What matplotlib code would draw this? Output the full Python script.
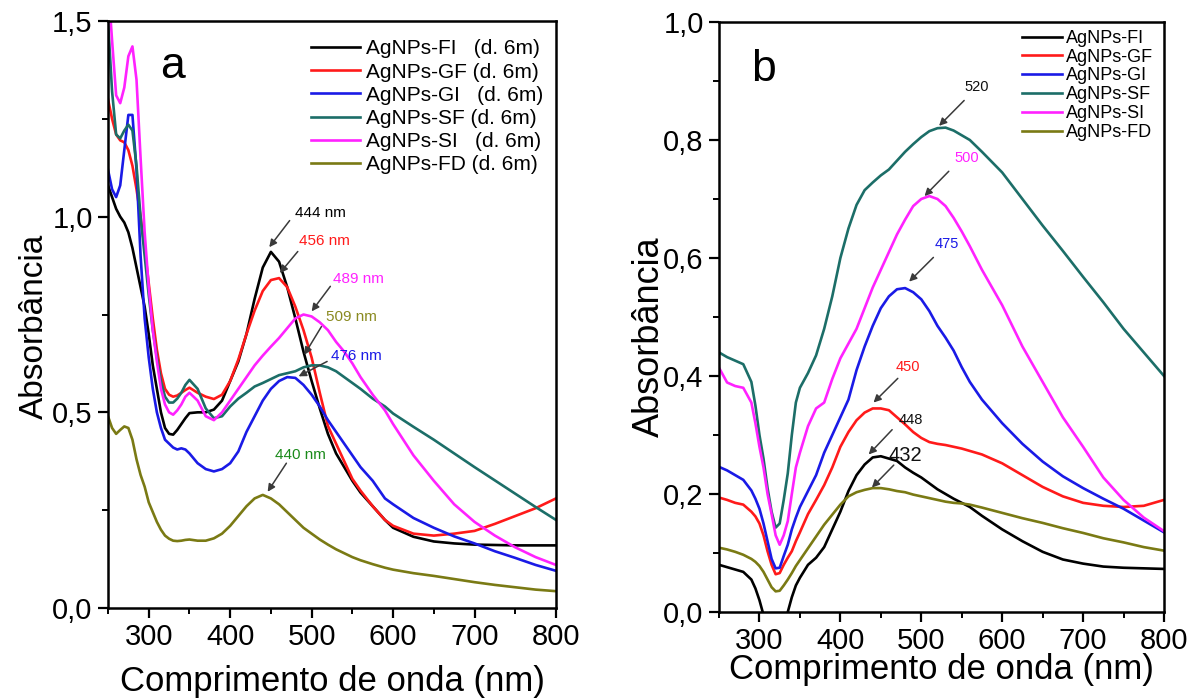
import matplotlib
matplotlib.use("Agg")
import matplotlib.pyplot as plt
from matplotlib.ticker import MultipleLocator, FuncFormatter

plt.rcParams['font.family'] = ['Liberation Sans', 'DejaVu Sans']

# ---------------- Panel a data ----------------
wl_a = [250, 255, 260, 265, 270, 275, 280, 285, 290, 295, 300, 305, 310, 315, 320, 325, 330,
        335, 340, 345, 350, 360, 370, 380, 390, 400, 410, 420, 430, 440, 450, 460, 470, 480, 490,
        500, 510, 520, 530, 540, 550, 560, 575, 590, 600, 625, 650, 675, 700, 725, 750, 775, 800]

a_FI = [1.08, 1.05, 1.02, 1.00, 0.985, 0.96, 0.92, 0.87, 0.82, 0.77, 0.70, 0.62, 0.56, 0.50, 0.46,
        0.445, 0.443, 0.455, 0.47, 0.485, 0.498, 0.50, 0.50, 0.507, 0.53, 0.58, 0.63, 0.70, 0.79,
        0.87, 0.91, 0.885, 0.82, 0.74, 0.655, 0.58, 0.51, 0.445, 0.395, 0.36, 0.325, 0.295, 0.26,
        0.225, 0.205, 0.182, 0.17, 0.165, 0.162, 0.161, 0.16, 0.16, 0.16]
a_GF = [1.30, 1.25, 1.21, 1.195, 1.19, 1.17, 1.13, 1.07, 1.00, 0.92, 0.83, 0.74, 0.66, 0.60, 0.56,
        0.545, 0.54, 0.543, 0.55, 0.557, 0.563, 0.55, 0.54, 0.534, 0.545, 0.58, 0.635, 0.70, 0.76,
        0.81, 0.838, 0.843, 0.82, 0.77, 0.71, 0.64, 0.55, 0.465, 0.42, 0.375, 0.33, 0.30, 0.26,
        0.225, 0.21, 0.19, 0.185, 0.19, 0.197, 0.215, 0.235, 0.255, 0.28]
a_GI = [1.12, 1.07, 1.05, 1.08, 1.17, 1.26, 1.26, 1.12, 0.90, 0.74, 0.64, 0.56, 0.50, 0.46, 0.43,
        0.42, 0.41, 0.405, 0.408, 0.405, 0.395, 0.37, 0.355, 0.349, 0.355, 0.37, 0.40, 0.45, 0.49,
        0.53, 0.56, 0.58, 0.59, 0.588, 0.57, 0.545, 0.515, 0.48, 0.45, 0.42, 0.39, 0.36, 0.325,
        0.28, 0.265, 0.23, 0.205, 0.183, 0.165, 0.145, 0.128, 0.11, 0.095]
a_SF = [1.50, 1.32, 1.21, 1.20, 1.22, 1.235, 1.22, 1.13, 1.00, 0.90, 0.80, 0.71, 0.64, 0.58, 0.54,
        0.525, 0.525, 0.535, 0.55, 0.57, 0.583, 0.56, 0.51, 0.485, 0.49, 0.515, 0.535, 0.55, 0.566,
        0.575, 0.585, 0.595, 0.60, 0.605, 0.615, 0.62, 0.62, 0.615, 0.605, 0.59, 0.575, 0.56, 0.535,
        0.515, 0.497, 0.463, 0.43, 0.395, 0.36, 0.326, 0.292, 0.258, 0.225]
a_SI = [1.60, 1.45, 1.31, 1.29, 1.33, 1.41, 1.435, 1.35, 1.15, 0.96, 0.82, 0.71, 0.63, 0.56, 0.52,
        0.50, 0.494, 0.505, 0.52, 0.54, 0.55, 0.53, 0.49, 0.48, 0.50, 0.53, 0.56, 0.59, 0.62,
        0.645, 0.668, 0.69, 0.715, 0.74, 0.75, 0.745, 0.73, 0.71, 0.68, 0.655, 0.625, 0.59, 0.545,
        0.505, 0.47, 0.39, 0.325, 0.265, 0.22, 0.185, 0.155, 0.13, 0.11]
a_FD = [0.49, 0.46, 0.445, 0.455, 0.464, 0.46, 0.43, 0.38, 0.34, 0.31, 0.27, 0.245, 0.22, 0.20,
        0.185, 0.177, 0.172, 0.171, 0.172, 0.174, 0.175, 0.172, 0.172, 0.178, 0.19, 0.21, 0.235,
        0.26, 0.28, 0.289, 0.28, 0.265, 0.245, 0.225, 0.205, 0.19, 0.175, 0.162, 0.15, 0.14, 0.13,
        0.122, 0.112, 0.103, 0.098, 0.089, 0.082, 0.074, 0.066, 0.059, 0.053, 0.047, 0.043]

labels_a = ["AgNPs-FI   (d. 6m)", "AgNPs-GF (d. 6m)", "AgNPs-GI   (d. 6m)",
            "AgNPs-SF (d. 6m)", "AgNPs-SI   (d. 6m)", "AgNPs-FD (d. 6m)"]

# ---------------- Panel b data ----------------
wl_b = [250, 260, 270, 280, 290, 295, 300, 305, 310, 315, 320, 325, 330, 335, 340, 345, 350, 360,
        370, 380, 390, 400, 410, 420, 430, 440, 450, 460, 470, 480, 490, 500, 510, 520, 530, 540,
        550, 560, 575, 600, 625, 650, 675, 700, 725, 750, 775, 800]

b_FI = [0.08, 0.076, 0.072, 0.068, 0.055, 0.04, 0.02, -0.005, -0.04, -0.06, -0.065, -0.055, -0.03,
        0.0, 0.025, 0.045, 0.058, 0.08, 0.092, 0.11, 0.14, 0.17, 0.205, 0.232, 0.25, 0.262, 0.264,
        0.26, 0.256, 0.245, 0.236, 0.228, 0.218, 0.208, 0.2, 0.192, 0.185, 0.178, 0.163, 0.14,
        0.12, 0.102, 0.089, 0.082, 0.077, 0.075, 0.074, 0.073]
b_GF = [0.194, 0.19, 0.185, 0.182, 0.17, 0.162, 0.15, 0.13, 0.103, 0.08, 0.064, 0.066, 0.08,
        0.092, 0.103, 0.12, 0.135, 0.166, 0.19, 0.215, 0.245, 0.28, 0.305, 0.325, 0.338, 0.345,
        0.345, 0.342, 0.33, 0.318, 0.305, 0.295, 0.288, 0.285, 0.283, 0.28, 0.277, 0.273, 0.267,
        0.252, 0.232, 0.212, 0.196, 0.185, 0.18, 0.178, 0.18, 0.19]
b_GI = [0.246, 0.24, 0.232, 0.224, 0.206, 0.192, 0.175, 0.15, 0.12, 0.09, 0.074, 0.075, 0.095,
        0.114, 0.14, 0.16, 0.178, 0.205, 0.232, 0.27, 0.30, 0.33, 0.36, 0.41, 0.45, 0.485, 0.515,
        0.535, 0.547, 0.549, 0.542, 0.53, 0.51, 0.485, 0.465, 0.443, 0.415, 0.39, 0.36, 0.32,
        0.285, 0.255, 0.23, 0.21, 0.192, 0.175, 0.155, 0.135]
b_SF = [0.44, 0.432, 0.426, 0.42, 0.39, 0.35, 0.30, 0.26, 0.21, 0.17, 0.143, 0.15, 0.19, 0.235,
        0.30, 0.355, 0.38, 0.405, 0.435, 0.48, 0.535, 0.60, 0.65, 0.69, 0.715, 0.728, 0.74, 0.75,
        0.765, 0.78, 0.793, 0.805, 0.815, 0.82, 0.821, 0.816, 0.808, 0.80, 0.78, 0.745, 0.70,
        0.655, 0.612, 0.568, 0.525, 0.48, 0.44, 0.40]
b_SI = [0.414, 0.389, 0.383, 0.38, 0.355, 0.32, 0.28, 0.245, 0.20, 0.166, 0.13, 0.114, 0.13,
        0.154, 0.20, 0.245, 0.27, 0.315, 0.345, 0.355, 0.395, 0.43, 0.455, 0.48, 0.515, 0.55,
        0.58, 0.61, 0.64, 0.665, 0.688, 0.70, 0.705, 0.70, 0.688, 0.668, 0.645, 0.62, 0.58,
        0.52, 0.45, 0.39, 0.33, 0.28, 0.228, 0.19, 0.16, 0.137]
b_FD = [0.109, 0.106, 0.102, 0.097, 0.09, 0.085, 0.078, 0.068, 0.055, 0.042, 0.035, 0.036, 0.045,
        0.055, 0.066, 0.078, 0.088, 0.108, 0.128, 0.148, 0.165, 0.182, 0.196, 0.203, 0.207, 0.21,
        0.21, 0.208, 0.205, 0.203, 0.199, 0.196, 0.193, 0.19, 0.187, 0.185, 0.184, 0.182, 0.177,
        0.168, 0.159, 0.151, 0.142, 0.134, 0.125, 0.118, 0.11, 0.104]

labels_b = ["AgNPs-FI", "AgNPs-GF", "AgNPs-GI", "AgNPs-SF", "AgNPs-SI", "AgNPs-FD"]

colors = ["#000000", "#ff1a1a", "#1a1ae6", "#1c6e68", "#ff22ff", "#7a7a14"]

# peak annotations: (text, text_x, text_y, tail_x, tail_y, head_x, head_y, color, size)
ann_a = [
    ("444 nm", 480, 1.01, 473, 0.99, 448, 0.922, "#000000", 11),
    ("456 nm", 484, 0.937, 483, 0.911, 461, 0.856, "#ff1a1a", 11),
    ("489 nm", 526, 0.84, 523, 0.822, 500, 0.758, "#ff22ff", 11),
    ("509 nm", 518, 0.743, 512, 0.719, 491, 0.647, "#8a8a20", 11),
    ("476 nm", 524, 0.645, 519, 0.63, 484, 0.592, "#1a1ae6", 11),
    ("440 nm", 455, 0.391, 469, 0.37, 446, 0.297, "#1a8a1a", 11),
]
ann_b = [
    ("520", 553, 0.889, 553, 0.867, 522, 0.824, "#111111", 10.5),
    ("500", 541, 0.77, 534, 0.747, 504, 0.705, "#ff22ff", 10.5),
    ("475", 516, 0.623, 515, 0.601, 485, 0.56, "#1a1ae6", 10.5),
    ("450", 468, 0.415, 471, 0.396, 441, 0.355, "#ff1a1a", 10.5),
    ("448", 472, 0.326, 464, 0.309, 435, 0.267, "#111111", 10.5),
    ("432", 460, 0.265, 466, 0.249, 439, 0.211, "#111111", 14.5),
]

comma = FuncFormatter(lambda v, p: f"{v:.1f}".replace('.', ','))

fig = plt.figure(figsize=(11.9, 6.99), dpi=100)
ax_a = fig.add_axes([108 / 1190, 1 - 608 / 699, 448 / 1190, 587 / 699])
ax_b = fig.add_axes([719 / 1190, 1 - 612 / 699, 445 / 1190, 590 / 699])


def style(ax, ymax, ymajor, yminor):
    ax.set_xlim(250, 800)
    ax.set_ylim(0, ymax)
    ax.xaxis.set_major_locator(MultipleLocator(100))
    ax.xaxis.set_minor_locator(MultipleLocator(50))
    ax.yaxis.set_major_locator(MultipleLocator(ymajor))
    ax.yaxis.set_minor_locator(MultipleLocator(yminor))
    ax.yaxis.set_major_formatter(comma)
    ax.tick_params(which='major', direction='out', length=7, width=1.6, labelsize=21, pad=4)
    ax.tick_params(which='minor', direction='out', length=4, width=1.4)
    ax.tick_params(top=False, right=False, which='both')
    for s in ax.spines.values():
        s.set_linewidth(1.8)


def annotate(ax, items):
    for t, tx, ty, ax0, ay0, hx, hy, c, fs in items:
        ax.text(tx, ty, t, color=c, fontsize=fs, ha='left', va='center')
        ax.annotate('', xy=(hx, hy), xytext=(ax0, ay0),
                    arrowprops=dict(arrowstyle='-|>', color='#3a3a3a', lw=1.1,
                                    mutation_scale=11, shrinkA=0, shrinkB=0))


series_a = [a_FI, a_GF, a_GI, a_SF, a_SI, a_FD]
for y, c, lab in zip(series_a, colors, labels_a):
    ax_a.plot(wl_a, y, color=c, lw=1.9, label=lab)
style(ax_a, 1.5, 0.5, 0.25)
ax_a.set_xlabel("Comprimento de onda (nm)", fontsize=25)
ax_a.xaxis.set_label_coords(0.5, -0.097)
ax_a.set_ylabel("Absorbância", fontsize=24)
ax_a.yaxis.set_label_coords(-0.13, 0.48)
ax_a.legend(loc='upper right', bbox_to_anchor=(1.0, 0.99), frameon=False, fontsize=15,
            handlelength=2.35, handletextpad=0.3, labelspacing=0.2, borderaxespad=0.2)
ax_a.text(0.143, 0.923, "a", transform=ax_a.transAxes, fontsize=32, ha='center', va='center')
annotate(ax_a, ann_a)

series_b = [b_FI, b_GF, b_GI, b_SF, b_SI, b_FD]
for y, c, lab in zip(series_b, colors, labels_b):
    ax_b.plot(wl_b, y, color=c, lw=1.9, label=lab)
style(ax_b, 1.0, 0.2, 0.1)
ax_b.set_xlabel("Comprimento de onda (nm)", fontsize=25)
ax_b.xaxis.set_label_coords(0.5, -0.07)
ax_b.set_ylabel("Absorbância", fontsize=26)
ax_b.yaxis.set_label_coords(-0.118, 0.466)
ax_b.legend(loc='upper right', bbox_to_anchor=(1.0, 1.005), frameon=False, fontsize=13,
            handlelength=2.2, handletextpad=0.25, labelspacing=0.1, borderaxespad=0.2)
ax_b.text(0.1, 0.92, "b", transform=ax_b.transAxes, fontsize=32, ha='center', va='center')
annotate(ax_b, ann_b)

fig.savefig("out.png", dpi=100)
